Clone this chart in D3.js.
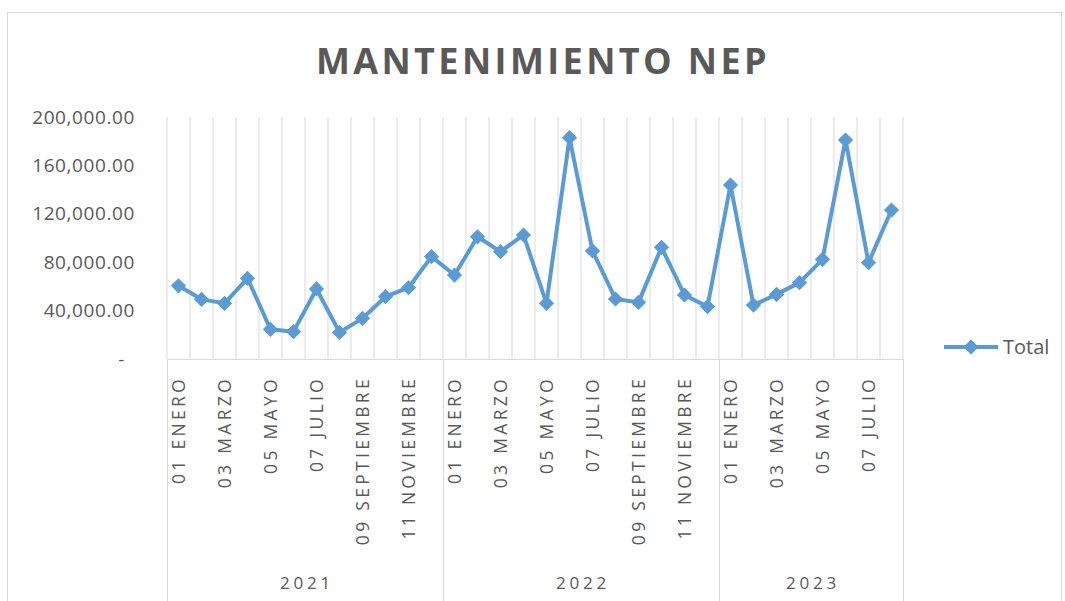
<!DOCTYPE html>
<html>
<head>
<meta charset="utf-8">
<script src="https://cdn.jsdelivr.net/npm/d3@7"></script>
<style>
  body { margin: 0; background: #fff; }
  text { font-family: "Open Sans", "DejaVu Sans", sans-serif; fill: #595959; }
</style>
</head>
<body>
<div id="chart"></div>
<script>
var years = ['2021', '2022', '2023'];
var monthsPerYear = [12, 12, 8];
var monthNames = ['01 ENERO','02 FEBRERO','03 MARZO','04 ABRIL','05 MAYO','06 JUNIO',
  '07 JULIO','08 AGOSTO','09 SEPTIEMBRE','10 OCTUBRE','11 NOVIEMBRE','12 DICIEMBRE'];
var totals = [60500, 49300, 46000, 66700, 24500, 22600, 57900, 22000, 33600, 51500, 58900, 84600,
  69400, 101000, 88700, 102500, 46000, 182900, 89300, 49600, 46800, 92300, 52900, 43300,
  143800, 44600, 53400, 63100, 82400, 181000, 79600, 123100];
var yTicks = [0, 40000, 80000, 120000, 160000, 200000];

var W = 1065, H = 601;
var margin = {top: 117, left: 167, right: 162, bottom: 242};
var width = W - margin.left - margin.right;   // 736
var height = H - margin.top - margin.bottom;  // 242
var blue = '#5B9BD5', grid = '#d9d9d9';

// flatten categories
var cats = [];
years.forEach(function(y, yi) {
  for (var m = 0; m < monthsPerYear[yi]; m++) cats.push({year: y, month: monthNames[m], idx: m});
});
var data = cats.map(function(c, i) { return {cat: c, value: totals[i], i: i}; });

var svg = d3.select('#chart').append('svg')
  .attr('width', W).attr('height', H);

// chart border
svg.append('rect')
  .attr('x', 7.5).attr('y', 12.5)
  .attr('width', 1054).attr('height', 600)
  .attr('fill', 'none').attr('stroke', grid);

svg.append('text')
  .attr('x', 543).attr('y', 74)
  .attr('text-anchor', 'middle')
  .style('font-size', '36px').style('font-weight', 'bold')
  .style('letter-spacing', '3.4px')
  .text('MANTENIMIENTO NEP');

var g = svg.append('g')
  .attr('transform', 'translate(' + margin.left + ',' + margin.top + ')');

var x = d3.scaleBand().domain(d3.range(cats.length)).range([0, width]).padding(0);
var y = d3.scaleLinear().domain([0, 200000]).range([height, 0]);

// vertical gridlines
g.append('g').selectAll('line')
  .data(d3.range(cats.length + 1))
  .enter().append('line')
  .attr('x1', function(d) { return d < cats.length ? x(d) : width; })
  .attr('x2', function(d) { return d < cats.length ? x(d) : width; })
  .attr('y1', 0).attr('y2', height)
  .attr('stroke', grid).attr('stroke-width', 1);

// baseline
g.append('line')
  .attr('x1', 0).attr('x2', width).attr('y1', height + 0.5).attr('y2', height + 0.5)
  .attr('stroke', grid);

// year separators below axis
var bounds = [0];
monthsPerYear.forEach(function(n, i) { bounds.push(bounds[i] + n); });
g.append('g').selectAll('line')
  .data(bounds)
  .enter().append('line')
  .attr('x1', function(d) { return d < cats.length ? x(d) + 0.5 : width + 0.5; })
  .attr('x2', function(d) { return d < cats.length ? x(d) + 0.5 : width + 0.5; })
  .attr('y1', height).attr('y2', H - margin.top)
  .attr('stroke', grid);

// y axis labels
var yAxis = g.append('g')
  .attr('transform', 'translate(-29,0)')
  .call(d3.axisLeft(y).tickValues(yTicks).tickSize(0)
    .tickFormat(function(d) { return d === 0 ? '-' : d3.format(',.2f')(d); }));
yAxis.select('.domain').remove();
yAxis.selectAll('text')
  .style('font-size', '19px').style('font-family', '"Open Sans", sans-serif')
  .style('letter-spacing', '0.6px')
  .attr('fill', '#595959')
  .attr('dx', function(d) { return d === 0 ? -10 : 0; });

// month labels (every other one)
g.append('g').selectAll('text')
  .data(cats.filter(function(c) { return c.idx % 2 === 0; }))
  .enter().append('text')
  .attr('transform', function(c) {
    var i = cats.indexOf(c);
    return 'translate(' + (x(i) + x.bandwidth() / 2 + 6) + ',' + (height + 17) + ') rotate(-90)';
  })
  .attr('text-anchor', 'end')
  .style('font-size', '17.5px').style('letter-spacing', '3.3px')
  .text(function(c) { return c.month; });

// year labels
g.append('g').selectAll('text')
  .data(years)
  .enter().append('text')
  .attr('x', function(d, i) {
    var a = x(bounds[i]);
    var b = bounds[i + 1] < cats.length ? x(bounds[i + 1]) : width;
    return (a + b) / 2 + 2;
  })
  .attr('y', height + 230)
  .attr('text-anchor', 'middle')
  .style('font-size', '17px').style('letter-spacing', '3.8px')
  .text(function(d) { return d; });

// line
var line = d3.line()
  .x(function(d) { return x(d.i) + x.bandwidth() / 2; })
  .y(function(d) { return y(d.value); });

g.append('path')
  .datum(data)
  .attr('d', line)
  .attr('fill', 'none').attr('stroke', blue)
  .attr('stroke-width', 4).attr('stroke-linejoin', 'round');

var diamond = d3.symbol().type(d3.symbolSquare).size(95);
g.append('g').selectAll('path')
  .data(data)
  .enter().append('path')
  .attr('d', diamond)
  .attr('transform', function(d) {
    return 'translate(' + (x(d.i) + x.bandwidth() / 2) + ',' + y(d.value) + ') rotate(45)';
  })
  .attr('fill', blue).attr('stroke', blue);

// legend
var lg = svg.append('g').attr('transform', 'translate(944,347)');
lg.append('line').attr('x1', 0).attr('x2', 54).attr('y1', 0).attr('y2', 0)
  .attr('stroke', blue).attr('stroke-width', 4);
lg.append('path').attr('d', diamond)
  .attr('transform', 'translate(27,0) rotate(45)')
  .attr('fill', blue).attr('stroke', blue);
lg.append('text').attr('x', 59).attr('y', 7)
  .style('font-size', '20px')
  .text('Total');
</script>
</body>
</html>
